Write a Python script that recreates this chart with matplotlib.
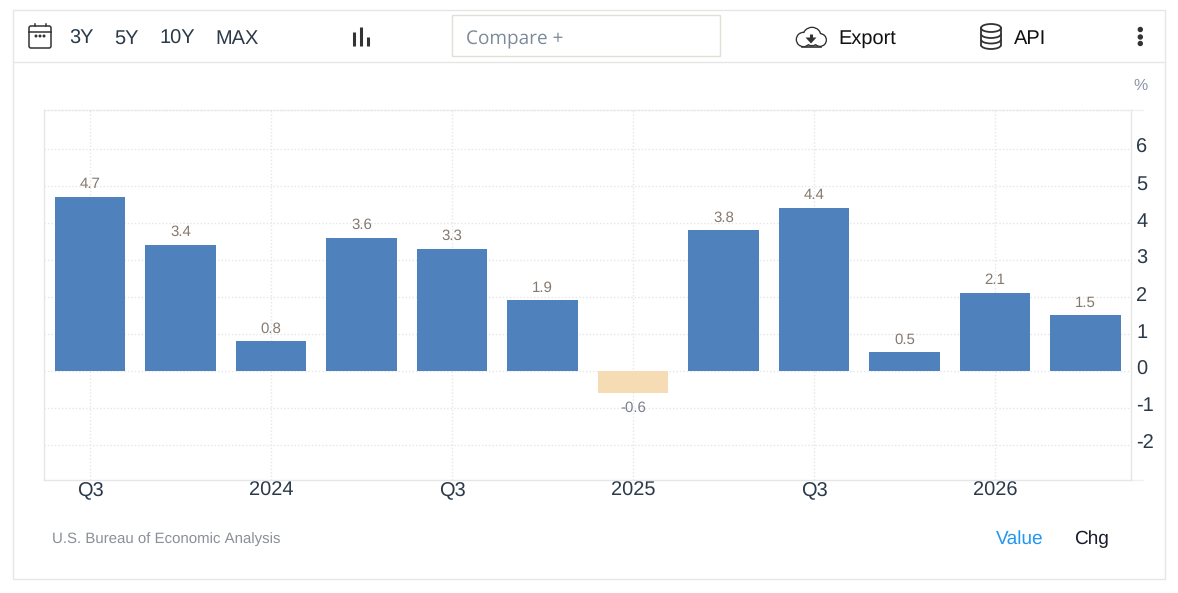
import matplotlib
matplotlib.use("Agg")
import matplotlib.pyplot as plt
from matplotlib.patches import Rectangle, FancyBboxPatch, Ellipse, Circle, Arc
from matplotlib.transforms import ScaledTranslation

W = 1178
H = 593

quarters = ["Q3 2023", "Q4 2023", "Q1 2024", "Q2 2024", "Q3 2024", "Q4 2024",
            "Q1 2025", "Q2 2025", "Q3 2025", "Q4 2025", "Q1 2026", "Q2 2026"]
values = [4.7, 3.4, 0.8, 3.6, 3.3, 1.9, -0.6, 3.8, 4.4, 0.5, 2.1, 1.5]
x_ticks = [0, 2, 4, 6, 8, 10]
x_labels = ["Q3", "2024", "Q3", "2025", "Q3", "2026"]
y_ticks = [-2, -1, 0, 1, 2, 3, 4, 5, 6]
range_buttons = ["3Y", "5Y", "10Y", "MAX"]

plt.rcParams["font.family"] = ["Liberation Sans", "DejaVu Sans"]
plt.rcParams["axes.unicode_minus"] = False
plt.rcParams["text.hinting"] = "none"
plt.rcParams["text.hinting_factor"] = 1

fig = plt.figure(figsize=(W / 100, H / 100), dpi=100, facecolor="white")

# overlay in pixel coords for the page furniture
page = fig.add_axes([0, 0, 1, 1], zorder=0)
page.set_xlim(0, W)
page.set_ylim(H, 0)
page.axis("off")

border = "#e6e6e6"
page.add_patch(Rectangle((13, 10), 1152, 569, fc="white", ec=border, lw=1))
page.plot([13, 1165], [62, 62], color=border, lw=1)
page.add_patch(Rectangle((452, 15), 268, 41, fc="white", ec="#e0e0d8", lw=1))

dark = "#333333"

# calendar icon
page.add_patch(FancyBboxPatch((29, 26), 22, 22, boxstyle="round,pad=0,rounding_size=2",
                              fc="none", ec=dark, lw=1.1))
page.plot([29, 51], [31.5, 31.5], color=dark, lw=1.1)
page.plot([34.5, 34.5], [23.5, 26], color=dark, lw=1.1)
page.plot([46, 46], [23.5, 26], color=dark, lw=1.1)
for cx in [36, 40, 44]:
    page.add_patch(Circle((cx, 36), 0.8, color=dark))

# range buttons
for label, px in zip(range_buttons, [69.5, 114.5, 159.5, 215.5]):
    page.text(px, 44, label, fontsize=14.3, color="#2b3a4a", ha="left", va="baseline")

# chart type icon
for px, top in [(354, 32), (360.7, 27), (367.7, 37)]:
    page.plot([px, px], [top, 45.5], color=dark, lw=2.2, solid_capstyle="butt")

page.text(466, 44, "Compare +", fontsize=13.9, color="#7c8a99", ha="left", va="baseline",
          family=["Open Sans", "DejaVu Sans"])

# cloud icon: outlined lobes, then the insides wiped white
lobes = [(803.5, 39.5, 7.0), (812, 36.5, 9.0), (820, 40, 6.2)]
for cx, cy, r in lobes:
    page.add_patch(Circle((cx, cy), r, fc="white", ec=dark, lw=1.2))
for cx, cy, r in lobes:
    page.add_patch(Circle((cx, cy), r - 0.6, fc="white", ec="none"))
page.add_patch(Rectangle((797, 46.5), 29, 4, fc="white", ec="none"))
page.plot([802, 821], [46.5, 46.5], color=dark, lw=1.2)
page.plot([811, 811], [33.5, 38.5], color=dark, lw=2.2, solid_capstyle="butt")
page.fill([805.5, 816.5, 811], [37.5, 37.5, 43.5], color=dark, lw=0)
page.text(838, 44, "Export", fontsize=14.3, color="#111111", ha="left", va="baseline")

# database icon
page.plot([981, 981], [28, 45], color=dark, lw=1.3)
page.plot([1001, 1001], [28, 45], color=dark, lw=1.3)
page.add_patch(Ellipse((991, 28), 20, 8, fc="none", ec=dark, lw=1.3))
for cy in [34, 39.5, 45]:
    page.add_patch(Arc((991, cy), 20, 8, theta1=0, theta2=180, ec=dark, lw=1.3))
page.text(1014, 44, "API", fontsize=14.3, color="#111111", ha="left", va="baseline")

for cy in [29.5, 37, 43.5]:
    page.add_patch(Circle((1140.3, cy), 2.0, color=dark))

page.text(1140.5, 85.5, "%", fontsize=11.5, color="#8a94a6", ha="center", va="center")

page.text(51.5, 543, "U.S. Bureau of Economic Analysis", fontsize=10.68, color="#8a8f98",
          ha="left", va="baseline")
page.text(995.5, 544, "Value", fontsize=14, color="#2196f3", ha="left", va="baseline")
page.text(1074.5, 544, "Chg", fontsize=14, color="#1a1a2e", ha="left", va="baseline")

# chart area
left, right, top, bottom = 44, 1130.5, 110, 479.5
ax = fig.add_axes([left / W, 1 - bottom / H, (right - left) / W, (bottom - top) / H],
                  zorder=1)
ax.patch.set_alpha(0)

xs = list(range(len(values)))
colors = ["#4f81bd" if v >= 0 else "#f5dcb4" for v in values]
ax.bar(xs, values, width=0.775, color=colors, zorder=3)

ax.set_xlim(-0.509, 11.497)
ax.set_ylim(-2.94, 7.05)

ax.set_xticks(x_ticks)
ax.set_xticklabels(x_labels, va="baseline")
ax.set_yticks(y_ticks)
ax.yaxis.tick_right()
ax.grid(True, color="#e6e6e6", lw=1, ls=(0, (1, 1.5)), zorder=0)
ax.tick_params(axis="x", length=0, labelsize=14.3, labelcolor="#2b3a4a", pad=12)
ax.tick_params(axis="y", length=0, labelsize=14.3, labelcolor="#2b3a4a", pad=4)
# y labels sit about 3px above their gridlines
nudge = ScaledTranslation(0, 3.5 / 100, fig.dpi_scale_trans)
for lab in ax.get_yticklabels():
    lab.set_transform(lab.get_transform() + nudge)

for side in ax.spines:
    ax.spines[side].set_color("#e6e6e6")
    ax.spines[side].set_linewidth(1)
ax.spines["top"].set_linestyle((0, (1, 1.5)))

# little extension of the baseline and top line past the right spine
page.plot([1131, 1143], [480, 480], color="#f0f0f0", lw=1)
page.plot([1131, 1143], [110, 110], color="#f0f0f0", lw=1)

for x, v in zip(xs, values):
    if v >= 0:
        ax.annotate(f"{v}", (x, v), xytext=(0, 4), textcoords="offset points",
                    ha="center", va="bottom", fontsize=10.7, color="#85796f", zorder=4)
    else:
        ax.annotate(f"{v}", (x, v), xytext=(0, -6), textcoords="offset points",
                    ha="center", va="top", fontsize=10.7, color="#7a7f88", zorder=4)

fig.savefig("out.png", dpi=100)
